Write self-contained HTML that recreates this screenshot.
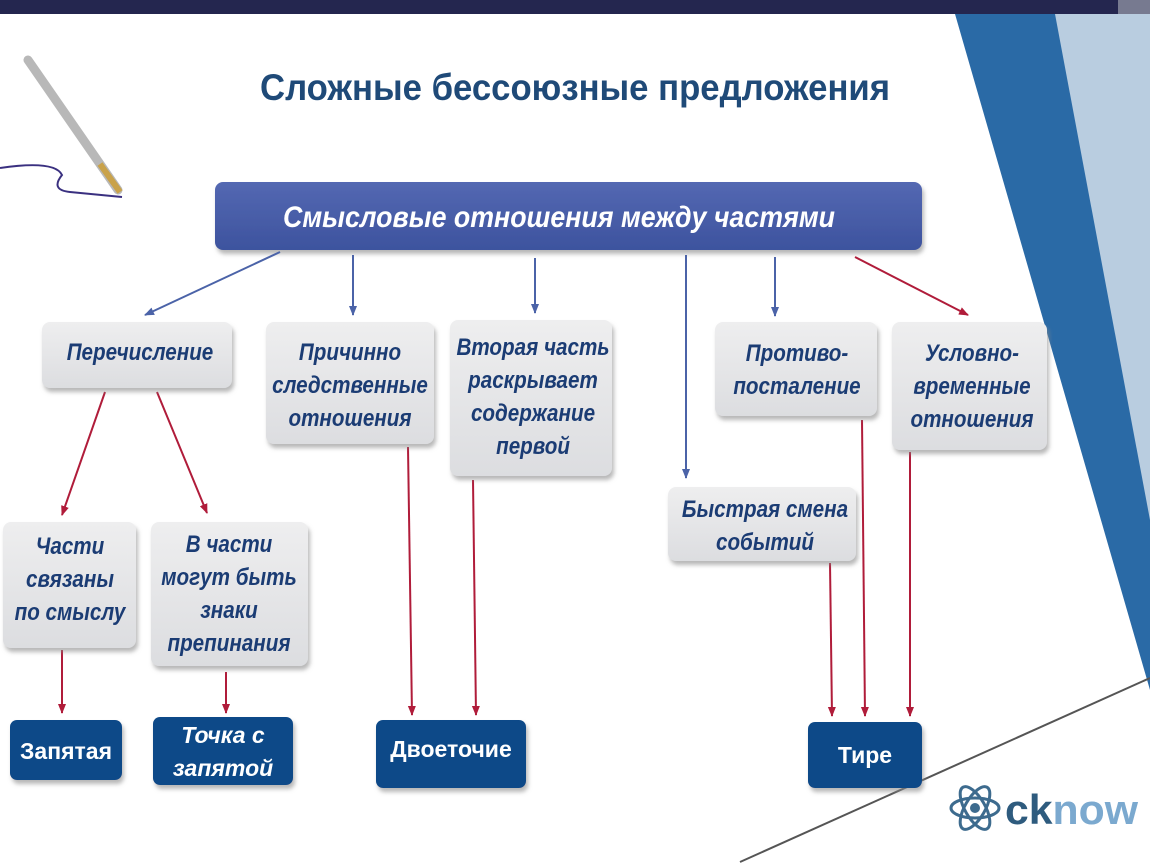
<!DOCTYPE html>
<html><head><meta charset="utf-8"><style>
html,body{margin:0;padding:0;background:#fff;}
svg{display:block;}
text{font-family:"Liberation Sans",Arial,sans-serif;}
.b text{font-style:italic;font-weight:bold;font-size:24px;fill:#1b3c74;text-anchor:middle;}
.w{font-size:23px;fill:#fff;text-anchor:middle;font-weight:bold;}
</style></head><body>
<svg width="1150" height="864" viewBox="0 0 1150 864" xmlns="http://www.w3.org/2000/svg">
<defs>
<linearGradient id="g" x1="0" y1="0" x2="0" y2="1"><stop offset="0" stop-color="#eeeeef"/><stop offset="1" stop-color="#dcdde0"/></linearGradient>
<linearGradient id="m" x1="0" y1="0" x2="0" y2="1"><stop offset="0" stop-color="#5468b2"/><stop offset="1" stop-color="#3d539e"/></linearGradient>
<marker id="ab" markerWidth="10" markerHeight="10" refX="9" refY="5" orient="auto" markerUnits="userSpaceOnUse"><path d="M0,1 L10,5 L0,9z" fill="#4b63a8"/></marker>
<marker id="ar" markerWidth="10" markerHeight="10" refX="9" refY="5" orient="auto" markerUnits="userSpaceOnUse"><path d="M0,1 L10,5 L0,9z" fill="#b01c3a"/></marker>
<filter id="s" x="-10%" y="-10%" width="125%" height="130%"><feDropShadow dx="2" dy="4" stdDeviation="2" flood-color="#888" flood-opacity="0.6"/></filter>
</defs>
<polygon points="955,14 1150,14 1150,690" fill="#2a6aa6"/>
<polygon points="1055,14 1150,14 1150,520" fill="#b9cde0"/>
<line x1="740" y1="862" x2="1150" y2="678" stroke="#555" stroke-width="2"/>
<rect x="0" y="0" width="1150" height="14" fill="#24264f"/>
<rect x="1118" y="0" width="32" height="14" fill="#777a90"/>
<line x1="28" y1="60" x2="118" y2="190" stroke="#b8b8b8" stroke-width="9" stroke-linecap="round"/>
<line x1="100" y1="164" x2="120" y2="192" stroke="#c9a24a" stroke-width="6"/>
<path d="M0,168 Q55,160 62,175 Q50,190 70,192 L122,197" fill="none" stroke="#3a3080" stroke-width="2"/>
<text x="575" y="100" text-anchor="middle" font-size="37" font-weight="bold" fill="#1f4a78" textLength="630" lengthAdjust="spacingAndGlyphs">Сложные бессоюзные предложения</text>
<rect x="215" y="182" width="707" height="68" rx="8" fill="url(#m)" filter="url(#s)"/>
<text x="559" y="227" text-anchor="middle" font-size="30" font-style="italic" font-weight="bold" fill="#fff" textLength="552" lengthAdjust="spacingAndGlyphs">Смысловые отношения между частями</text>
<g stroke="#4b63a8" stroke-width="2" marker-end="url(#ab)">
<line x1="280" y1="252" x2="145" y2="315"/>
<line x1="353" y1="255" x2="353" y2="315"/>
<line x1="535" y1="258" x2="535" y2="313"/>
<line x1="686" y1="255" x2="686" y2="478"/>
<line x1="775" y1="257" x2="775" y2="316"/>
</g>
<g stroke="#b01c3a" stroke-width="2" marker-end="url(#ar)">
<line x1="855" y1="257" x2="968" y2="315"/>
<line x1="105" y1="392" x2="62" y2="515"/>
<line x1="157" y1="392" x2="207" y2="513"/>
<line x1="62" y1="650" x2="62" y2="713"/>
<line x1="226" y1="672" x2="226" y2="713"/>
<line x1="408" y1="447" x2="412" y2="715"/>
<line x1="473" y1="480" x2="476" y2="715"/>
<line x1="830" y1="563" x2="832" y2="716"/>
<line x1="862" y1="420" x2="865" y2="716"/>
<line x1="910" y1="452" x2="910" y2="716"/>
</g>
<g fill="url(#g)" filter="url(#s)">
<rect x="42" y="322" width="190" height="66" rx="8"/>
<rect x="266" y="322" width="168" height="122" rx="8"/>
<rect x="450" y="320" width="162" height="156" rx="8"/>
<rect x="715" y="322" width="162" height="94" rx="8"/>
<rect x="892" y="322" width="155" height="128" rx="8"/>
<rect x="668" y="487" width="188" height="74" rx="8"/>
<rect x="3" y="522" width="133" height="126" rx="8"/>
<rect x="151" y="522" width="157" height="144" rx="8"/>
</g>
<g class="b">
<g transform="translate(140 0) scale(.86 1)"><text x="0" y="360">Перечисление</text></g>
<g transform="translate(350 0) scale(.86 1)"><text x="0" y="360">Причинно</text><text x="0" y="393">следственные</text><text x="0" y="426">отношения</text></g>
<g transform="translate(533 0) scale(.86 1)"><text x="0" y="355">Вторая часть</text><text x="0" y="388">раскрывает</text><text x="0" y="421">содержание</text><text x="0" y="454">первой</text></g>
<g transform="translate(797 0) scale(.86 1)"><text x="0" y="361">Противо-</text><text x="0" y="394">посталение</text></g>
<g transform="translate(972 0) scale(.86 1)"><text x="0" y="361">Условно-</text><text x="0" y="394">временные</text><text x="0" y="427">отношения</text></g>
<g transform="translate(765 0) scale(.86 1)"><text x="0" y="517">Быстрая смена</text><text x="0" y="550">событий</text></g>
<g transform="translate(70 0) scale(.86 1)"><text x="0" y="554">Части</text><text x="0" y="587">связаны</text><text x="0" y="620">по смыслу</text></g>
<g transform="translate(229 0) scale(.86 1)"><text x="0" y="552">В части</text><text x="0" y="585">могут быть</text><text x="0" y="618">знаки</text><text x="0" y="651">препинания</text></g>
</g>
<g fill="#104a88" filter="url(#s)">
<rect x="10" y="720" width="112" height="60" rx="7"/>
<rect x="153" y="717" width="140" height="68" rx="7"/>
<rect x="376" y="720" width="150" height="68" rx="7"/>
<rect x="808" y="722" width="114" height="66" rx="7"/>
</g>
<g class="w">
<text x="66" y="759">Запятая</text>
<text x="223" y="743" font-style="italic">Точка с</text><text x="223" y="776" font-style="italic">запятой</text>
<text x="451" y="757">Двоеточие</text>
<text x="865" y="763">Тире</text>
</g>
<g fill="none" stroke="#3d6b8e" stroke-width="3">
<ellipse cx="975" cy="808" rx="24" ry="10"/>
<ellipse cx="975" cy="808" rx="24" ry="10" transform="rotate(60 975 808)"/>
<ellipse cx="975" cy="808" rx="24" ry="10" transform="rotate(-60 975 808)"/>
</g>
<circle cx="975" cy="808" r="5" fill="#3d6b8e"/>
<text x="1005" y="824" font-size="42" font-weight="bold" fill="#2e5b7e" textLength="133" lengthAdjust="spacingAndGlyphs">ck<tspan fill="#7ba9cf">now</tspan></text>
</svg>
</body></html>
